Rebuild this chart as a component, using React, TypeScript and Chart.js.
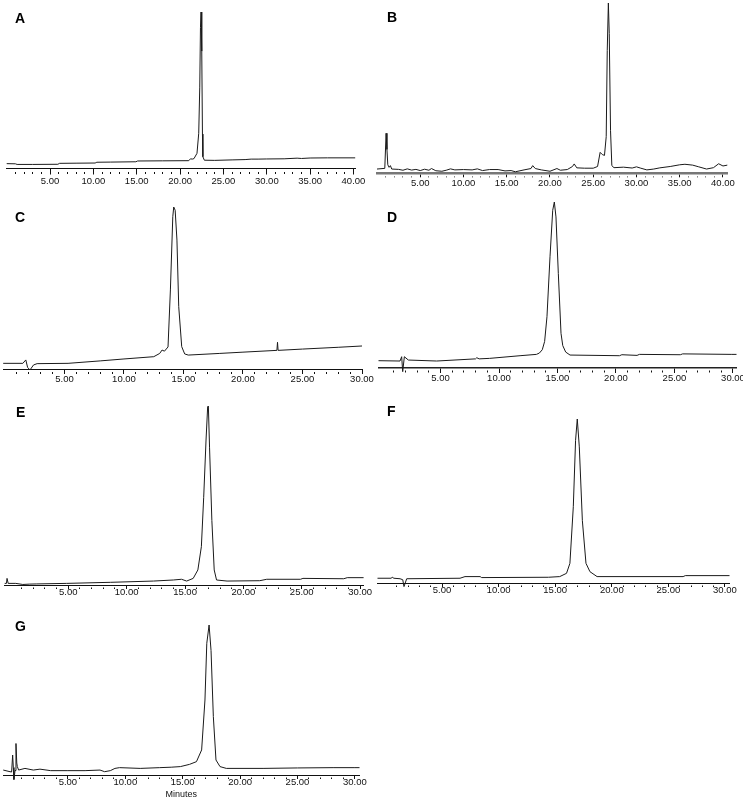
import React, { useEffect, useRef } from "react";
import { Chart, registerables } from "chart.js";

Chart.register(...registerables);

// ---------- Data (retention time in minutes, signal in % of main peak) ----------
const timeA = [0.0, 1.0, 1.2, 3.0, 5.9, 6.1, 8.0, 10.2, 10.4, 12.0, 14.9, 15.1, 18.0, 21.0, 21.2, 21.4, 21.6, 21.95, 22.15, 22.27, 22.35, 22.42, 22.5, 22.58, 22.63, 22.8, 24.0, 26.0, 27.5, 28.2, 29.0, 30.0, 32.0, 33.5, 34.0, 35.0, 37.0, 40.2];
const signalA = [3.1, 3.0, 2.6, 2.6, 2.7, 3.3, 3.4, 3.5, 4.0, 4.1, 4.3, 4.8, 4.9, 5.0, 6.2, 6.0, 6.3, 9.7, 22.5, 52, 90, 100, 75, 22, 7.5, 5.3, 5.2, 5.5, 5.7, 6.0, 6.0, 6.1, 6.2, 6.6, 6.4, 6.7, 6.8, 6.8];

const timeB = [0.0, 0.9, 1.05, 1.15, 1.25, 1.4, 1.55, 1.7, 2.5, 3.0, 3.5, 4.0, 4.5, 5.0, 5.5, 6.0, 6.3, 6.8, 7.5, 8.0, 8.5, 9.0, 10.0, 11.0, 11.6, 12.2, 13.0, 14.0, 14.8, 15.5, 16.0, 17.0, 17.8, 18.0, 18.3, 19.0, 20.0, 20.8, 21.2, 22.0, 22.6, 22.8, 23.1, 24.0, 25.0, 25.5, 25.8, 26.05, 26.3, 26.5, 26.62, 26.75, 26.85, 27.0, 27.15, 27.4, 28.5, 29.5, 30.0, 30.5, 31.2, 32.0, 32.7, 33.9, 35.0, 35.6, 36.5, 37.2, 38.1, 38.9, 39.5, 40.0, 40.5];
const signalB = [2.5, 2.9, 23.5, 14, 5, 3.5, 4.5, 2.5, 2.3, 1.8, 2.6, 1.9, 2.3, 1.6, 2.4, 1.8, 2.8, 1.5, 1.2, 1.8, 2.6, 2.0, 2.2, 2.0, 2.6, 1.6, 2.2, 2.2, 1.4, 1.6, 0.9, 2.0, 2.8, 4.5, 2.8, 2.0, 1.2, 2.8, 1.8, 2.2, 4.0, 5.5, 3.2, 3.0, 3.0, 4.0, 12.3, 11.0, 10.5, 21.5, 72, 100, 82, 25, 4.5, 3.3, 3.6, 3.1, 3.8, 3.0, 2.0, 2.5, 3.2, 4.0, 5.0, 5.3, 4.8, 3.8, 2.5, 3.3, 5.6, 4.3, 4.8];

const timeC = [-0.15, 1.5, 1.75, 1.9, 2.1, 2.4, 2.7, 5.3, 8.0, 10.0, 12.5, 13.0, 13.2, 13.4, 13.7, 13.9, 14.1, 14.18, 14.3, 14.45, 14.6, 14.85, 15.1, 15.4, 18.0, 20.0, 22.85, 22.9, 22.95, 25.0, 28.0, 30.0];
const signalC = [3.5, 3.5, 5.6, 1.0, -0.6, 2.5, 3.3, 3.5, 5.0, 6.2, 7.6, 9.6, 11.7, 11.0, 13.6, 48.8, 94, 100, 98, 79.6, 38.5, 13.8, 9.3, 8.6, 9.6, 10.4, 11.5, 16.5, 11.5, 12.3, 13.4, 14.2];

const timeD = [-0.3, 1.54, 1.68, 1.77, 1.91, 2.25, 4.67, 8.0, 8.1, 8.3, 9.2, 11.8, 13.2, 13.45, 13.7, 13.9, 14.1, 14.36, 14.59, 14.73, 14.87, 15.07, 15.3, 15.45, 15.7, 16.07, 20.3, 20.5, 21.8, 22.0, 25.5, 25.7, 29.9, 30.3];
const signalD = [4.4, 4.2, 6.8, -2.2, 6.8, 4.8, 4.2, 5.5, 6.2, 5.5, 5.8, 7.4, 8.2, 9.0, 11.0, 16.0, 30.9, 67, 95, 100, 91, 57, 20.9, 13.5, 9.6, 7.8, 7.4, 8.0, 7.6, 8.2, 8.0, 8.5, 8.2, 8.2];

const timeE = [-0.45, -0.3, -0.25, -0.15, 0.5, 1.1, 1.7, 2.3, 4.86, 8.6, 12.3, 14.0, 14.7, 15.14, 15.7, 16.1, 16.4, 16.6, 16.8, 16.94, 17.0, 17.1, 17.3, 17.5, 17.7, 18.6, 21.4, 22.0, 24.9, 25.1, 28.6, 28.9, 30.3];
const signalE = [0.9, 0.9, 3.7, 0.9, 0.9, 0.3, 0.5, 0.6, 0.9, 1.5, 2.2, 2.8, 3.2, 2.2, 3.7, 8.4, 21.4, 49, 81, 99.6, 100, 77, 36, 8.4, 2.8, 2.2, 2.4, 3.2, 3.2, 3.7, 3.5, 4.1, 4.1];

const timeF = [-0.7, 0.5, 0.6, 0.75, 1.29, 1.53, 1.64, 1.88, 6.59, 7.03, 8.37, 8.5, 14.4, 15.4, 16.0, 16.3, 16.6, 16.8, 16.95, 17.13, 17.4, 17.72, 18.07, 18.7, 26.3, 26.5, 30.4];
const signalF = [2.9, 2.9, 3.5, 2.9, 2.6, 2.0, -2.2, 2.6, 2.9, 3.9, 3.9, 3.3, 3.5, 3.9, 5.9, 12, 46.5, 87, 100, 83, 38, 12, 6.9, 3.9, 3.9, 4.5, 4.5];

const timeG = [-0.63, -0.04, 0.1, 0.19, 0.25, 0.3, 0.4, 0.48, 0.55, 0.6, 0.71, 1.26, 1.99, 2.57, 3.5, 5.0, 6.5, 7.8, 8.2, 8.7, 9.1, 9.5, 11.3, 13.0, 14.0, 14.8, 15.6, 16.2, 16.65, 16.94, 17.1, 17.3, 17.47, 17.67, 17.9, 18.25, 18.8, 22.0, 25.0, 28.1, 30.0, 30.4];
const signalG = [3.3, 2.2, 2.0, 13.3, 5, -3, 3, 21, 8, 5.6, 3.3, 4.4, 3.3, 3.9, 2.9, 2.9, 2.9, 3.3, 2.2, 2.9, 4.4, 4.9, 4.4, 4.9, 5.2, 5.6, 7.1, 8.9, 16.7, 50, 87.8, 100, 83, 39, 10, 5.6, 4.4, 4.4, 4.7, 4.9, 4.9, 4.9];

const panelLetters = ["A", "B", "C", "D", "E", "F", "G"];
const axisTitleG = "Minutes";

// ---------- Layout / style ----------
type PanelSpec = {
  letter: string;
  time: number[];
  signal: number[];
  plotLeft: number;
  plotRight: number;
  axisY: number;
  peakY: number;
  xMin: number;
  xMax: number;
  tickLen: number;
  tickPad: number;
  minorDash: number[];
  borderWidth: number;
  borderColor: string;
  axisHeight: number;
  title?: string;
  letterLeft: number;
  letterTop: number;
};

const PL = 12;
const PR = 24;
const PT = 4;
const FONT = "'Liberation Sans', Arial, Helvetica, sans-serif";

const specs: PanelSpec[] = [
  { letter: panelLetters[0], time: timeA, signal: signalA, plotLeft: 6.7, plotRight: 355.2, axisY: 168.5, peakY: 12, xMin: 0, xMax: 40.2, tickLen: 6, tickPad: 2, minorDash: [0, 3, 2, 20], borderWidth: 1, borderColor: "#111", axisHeight: 22, letterLeft: 15, letterTop: 11 },
  { letter: panelLetters[1], time: timeB, signal: signalB, plotLeft: 377, plotRight: 727.3, axisY: 173.3, peakY: 3, xMin: 0, xMax: 40.5, tickLen: 4, tickPad: 1, minorDash: [0, 2, 2, 20], borderWidth: 2.5, borderColor: "#777", axisHeight: 22, letterLeft: 387, letterTop: 10 },
  { letter: panelLetters[2], time: timeC, signal: signalC, plotLeft: 3.2, plotRight: 362, axisY: 369, peakY: 207, xMin: -0.15, xMax: 30, tickLen: 5, tickPad: 1, minorDash: [0, 2, 2, 20], borderWidth: 1, borderColor: "#111", axisHeight: 22, letterLeft: 15, letterTop: 210 },
  { letter: panelLetters[3], time: timeD, signal: signalD, plotLeft: 378.5, plotRight: 736.5, axisY: 368, peakY: 202, xMin: -0.3, xMax: 30.3, tickLen: 5, tickPad: 1, minorDash: [0, 2, 2, 20], borderWidth: 1.5, borderColor: "#222", axisHeight: 22, letterLeft: 387, letterTop: 210 },
  { letter: panelLetters[4], time: timeE, signal: signalE, plotLeft: 4.7, plotRight: 363.6, axisY: 585, peakY: 406, xMin: -0.45, xMax: 30.3, tickLen: 4, tickPad: -1, minorDash: [0, 1.5, 1.5, 20], borderWidth: 1, borderColor: "#111", axisHeight: 20, letterLeft: 16, letterTop: 405 },
  { letter: panelLetters[5], time: timeF, signal: signalF, plotLeft: 377.5, plotRight: 729.5, axisY: 583, peakY: 419, xMin: -0.7, xMax: 30.4, tickLen: 4, tickPad: -1, minorDash: [0, 1.5, 1.5, 20], borderWidth: 1, borderColor: "#111", axisHeight: 20, letterLeft: 387, letterTop: 404 },
  { letter: panelLetters[6], time: timeG, signal: signalG, plotLeft: 3, plotRight: 359.5, axisY: 775, peakY: 625, xMin: -0.65, xMax: 30.4, tickLen: 4, tickPad: -1, minorDash: [0, 1.5, 1.5, 20], borderWidth: 1, borderColor: "#111", axisHeight: 25, title: axisTitleG, letterLeft: 15, letterTop: 619 },
];

function Panel({ spec }: { spec: PanelSpec }) {
  const ref = useRef<HTMLCanvasElement>(null);
  const canvasLeft = Math.floor(spec.plotLeft) - PL;
  const canvasTop = Math.floor(spec.peakY) - PT;
  const width = Math.ceil(spec.plotRight) + PR - canvasLeft;
  const height = Math.ceil(spec.axisY + spec.axisHeight) - canvasTop;

  useEffect(() => {
    if (!ref.current) return;
    const padLeft = spec.plotLeft - canvasLeft;
    const padRight = canvasLeft + width - spec.plotRight;
    const padTop = spec.peakY - canvasTop;
    const scaleHeight = canvasTop + height - spec.axisY;
    const n = Math.min(spec.time.length, spec.signal.length);
    const points = [] as { x: number; y: number }[];
    for (let i = 0; i < n; i++) points.push({ x: spec.time[i], y: spec.signal[i] });

    const chart = new Chart(ref.current, {
      type: "line",
      data: {
        datasets: [
          {
            data: points,
            borderColor: "#1a1a1a",
            borderWidth: 1,
            pointRadius: 0,
            tension: 0,
            fill: false,
            clip: { left: 2, right: 2, top: 4, bottom: 8 } as any,
          },
        ],
      },
      options: {
        responsive: false,
        maintainAspectRatio: false,
        animation: false,
        devicePixelRatio: 1,
        events: [],
        layout: { padding: { left: padLeft, right: padRight, top: padTop, bottom: 0 } },
        plugins: {
          legend: { display: false },
          tooltip: { enabled: false },
          title: { display: false },
        },
        scales: {
          x: {
            type: "linear",
            min: spec.xMin,
            max: spec.xMax,
            afterBuildTicks: (scale: any) => {
              const arr = [] as { value: number }[];
              for (let v = Math.max(1, Math.ceil(spec.xMin)); v <= Math.floor(spec.xMax); v++) arr.push({ value: v });
              scale.ticks = arr;
            },
            afterFit: (scale: any) => {
              scale.height = scaleHeight;
              scale.paddingLeft = 0;
              scale.paddingRight = 0;
            },
            ticks: {
              autoSkip: false,
              maxRotation: 0,
              minRotation: 0,
              padding: spec.tickPad,
              color: "#111",
              font: { family: FONT, size: 9.5, lineHeight: 1 },
              callback: (v: any) => (Number(v) % 5 === 0 ? Number(v).toFixed(2) : ""),
            },
            grid: {
              display: true,
              drawOnChartArea: false,
              drawTicks: true,
              tickLength: spec.tickLen,
              tickColor: "#111",
              tickWidth: 1,
              tickBorderDash: (c: any) => (c.tick && c.tick.value % 5 === 0 ? [] : spec.minorDash),
            },
            border: { display: true, color: spec.borderColor, width: spec.borderWidth },
            title: spec.title
              ? {
                  display: true,
                  text: spec.title,
                  color: "#111",
                  font: { family: FONT, size: 9, lineHeight: 1 },
                  padding: { top: 1, bottom: 1 },
                }
              : { display: false },
          },
          y: { display: false, min: 0, max: 100 },
        },
      },
    });
    return () => chart.destroy();
  }, []);

  return (
    <>
      <canvas
        ref={ref}
        width={width}
        height={height}
        style={{ position: "absolute", left: canvasLeft, top: canvasTop, width, height }}
      />
      <div
        style={{
          position: "absolute",
          left: spec.letterLeft,
          top: spec.letterTop,
          font: `bold 14px/14px ${FONT}`,
          color: "#000",
        }}
      >
        {spec.letter}
      </div>
    </>
  );
}

export default function App() {
  return (
    <div
      style={{
        position: "absolute",
        left: 0,
        top: 0,
        width: 743,
        height: 801,
        background: "#fff",
        overflow: "hidden",
      }}
    >
      {specs.map((s) => (
        <Panel key={s.letter} spec={s} />
      ))}
    </div>
  );
}
